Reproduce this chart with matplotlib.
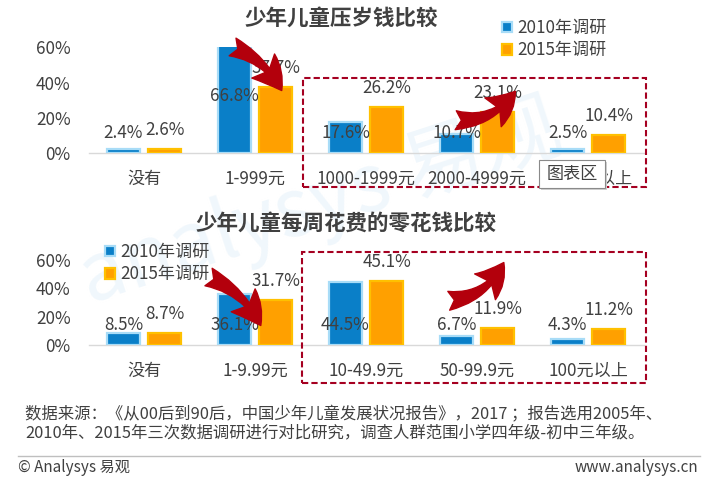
import matplotlib
matplotlib.use("Agg")
import matplotlib.pyplot as plt
import numpy as np
from matplotlib.patches import Rectangle, FancyArrowPatch
from matplotlib.lines import Line2D

plt.rcParams['font.family'] = ['Noto Sans CJK SC', 'DejaVu Sans']

# ---------------- data ----------------
series_names = ['2010年调研', '2015年调研']
cats_top = ['没有', '1-999元', '1000-1999元', '2000-4999元', '5000元以上']
top_2010 = [2.4, 66.8, 17.6, 10.7, 2.5]
top_2015 = [2.6, 37.7, 26.2, 23.1, 10.4]
cats_bottom = ['没有', '1-9.99元', '10-49.9元', '50-99.9元', '100元以上']
bottom_2010 = [8.5, 36.1, 44.5, 6.7, 4.3]
bottom_2015 = [8.7, 31.7, 45.1, 11.9, 11.2]
yticks = [0, 20, 40, 60]
title_top = '少年儿童压岁钱比较'
title_bottom = '少年儿童每周花费的零花钱比较'
# where the 2010 labels sit (label positions, in % units)
label2010_top = [11.5, 32.4, 11.5, 11.5, 11.5]
label2010_bottom = [14.1, 14.1, 14.1, 14.1, 14.1]
source_line1 = '数据来源：《从00后到90后，中国少年儿童发展状况报告》，2017 ；报告选用2005年、'
source_line2 = '2010年、2015年三次数据调研进行对比研究，调查人群范围小学四年级-初中三年级。'

# ---------------- style ----------------
W, H = 710, 479
BLUE, BLUE_EDGE = '#0a7fc8', '#a8dcf7'
ORANGE, ORANGE_EDGE = '#ffa000', '#ffc000'
TXT = '#404040'
RED = '#a50021'

fig = plt.figure(figsize=(W / 100, H / 100), dpi=100)
fig.patch.set_facecolor('white')

def fx(px):
    return px / W

def fy(py):
    return 1 - py / H

# faint watermark (behind everything)
fig.text(fx(320), fy(205), 'analysys 易观', fontsize=58, color='#f0f7fc',
         rotation=18, ha='center', va='center', zorder=-5)

def make_axes(top_px, bottom_px):
    left, right = 88.5, 643.5
    ax = fig.add_axes([fx(left), fy(bottom_px), (right - left) / W, (bottom_px - top_px) / H])
    ax.patch.set_alpha(0)
    return ax

def draw(ax, cats, v1, v2, lab1_y):
    x = np.arange(len(cats))
    off, bw = 0.185, 0.30
    b1 = ax.bar(x - off, v1, bw, color=BLUE, edgecolor=BLUE_EDGE, linewidth=1.6,
                label=series_names[0], zorder=3)
    b2 = ax.bar(x + off, v2, bw, color=ORANGE, edgecolor=ORANGE_EDGE, linewidth=1.6,
                label=series_names[1], zorder=3)
    for xi, v, ly in zip(x, v1, lab1_y):
        ax.text(xi - off, ly, f'{v}%', ha='center', va='center', fontsize=12.3,
                color=TXT, zorder=5)
    for xi, v in zip(x, v2):
        ax.annotate(f'{v}%', (xi + off, min(v, 60)), xytext=(0, 19 * 0.72),
                    textcoords='offset points', ha='center', va='center',
                    fontsize=12.3, color=TXT, zorder=5, annotation_clip=False)
    ax.set_xlim(-0.5, len(cats) - 0.5)
    ax.set_ylim(0, 60)
    ax.set_yticks(yticks)
    ax.set_yticklabels([f'{t}%' for t in yticks])
    ax.set_xticks(x)
    ax.set_xticklabels(cats)
    for s in ['top', 'right', 'left']:
        ax.spines[s].set_visible(False)
    ax.spines['bottom'].set_color('#d9d9d9')
    ax.spines['bottom'].set_linewidth(1.0)
    ax.tick_params(axis='y', length=0, pad=13, labelsize=12.3, labelcolor=TXT)
    ax.tick_params(axis='x', length=0, pad=12, labelsize=12.3, labelcolor=TXT)
    return b1, b2

ax1 = make_axes(47.3, 153.3)
h1 = draw(ax1, cats_top, top_2010, top_2015, label2010_top)
ax2 = make_axes(260, 345)
h2 = draw(ax2, cats_bottom, bottom_2010, bottom_2015, label2010_bottom)

# titles
fig.text(fx(341), fy(18), title_top, fontsize=15.5, fontweight='bold', color=TXT,
         ha='center', va='center')
fig.text(fx(346), fy(223), title_bottom, fontsize=15.5, fontweight='bold', color=TXT,
         ha='center', va='center')

# legends
leg_kw = dict(frameon=False, fontsize=12.3, handlelength=0.6, handleheight=0.6,
              handletextpad=0.3, labelspacing=0.25, borderpad=0, borderaxespad=0,
              labelcolor=TXT)
fig.legend(h1, series_names, loc='upper left', bbox_to_anchor=(fx(502), fy(19)), **leg_kw)
fig.legend(h2, series_names, loc='upper left', bbox_to_anchor=(fx(105), fy(243)), **leg_kw)

# red dashed boxes
for (x0, y0, x1, y1) in [(303, 78, 646, 187), (302, 252, 646, 383)]:
    fig.patches.append(Rectangle((fx(x0), fy(y1)), (x1 - x0) / W, (y1 - y0) / H,
                                 transform=fig.transFigure, fill=False, edgecolor=RED,
                                 linewidth=1.5, linestyle=(0, (3, 1.5)), zorder=6))

# red curved arrows
arrows = [((230, 46), (283, 93), -0.2),
          ((453, 120), (517, 89), 0.3),
          ((206, 276), (262, 328), -0.2),
          ((446, 301), (505, 260), 0.3)]
for (p0, p1, rad) in arrows:
    fig.patches.append(FancyArrowPatch((fx(p0[0]), fy(p0[1])), (fx(p1[0]), fy(p1[1])),
                                       transform=fig.transFigure,
                                       arrowstyle='fancy,head_length=1.3,head_width=1.4,tail_width=0.8',
                                       connectionstyle=f'arc3,rad={rad}',
                                       mutation_scale=17, color='#b3000c', zorder=7))

# tooltip
fig.patches.append(Rectangle((fx(541), fy(190)), 66 / W, 28 / H, transform=fig.transFigure,
                             facecolor='#d0d0d0', edgecolor='none', zorder=8))
fig.patches.append(Rectangle((fx(539), fy(188)), 66 / W, 28 / H, transform=fig.transFigure,
                             facecolor='white', edgecolor='#8a8a8a', linewidth=0.8, zorder=8))
fig.text(fx(572), fy(174), '图表区', fontsize=12.3, color=TXT, ha='center', va='center', zorder=9)

# footer
fig.text(fx(25), fy(415), source_line1, fontsize=11.8, color=TXT, ha='left', va='center')
fig.text(fx(25), fy(433), source_line2, fontsize=11.8, color=TXT, ha='left', va='center')
fig.lines.append(Line2D([fx(18), fx(700)], [fy(456), fy(456)], transform=fig.transFigure,
                        color='#bfbfbf', linewidth=1.0))
fig.text(fx(18), fy(468), '© Analysys 易观', fontsize=11, color=TXT, ha='left', va='center')
fig.text(fx(698), fy(468), 'www.analysys.cn', fontsize=11, color=TXT, ha='right', va='center')

fig.savefig('out.png', dpi=100, facecolor='white')
